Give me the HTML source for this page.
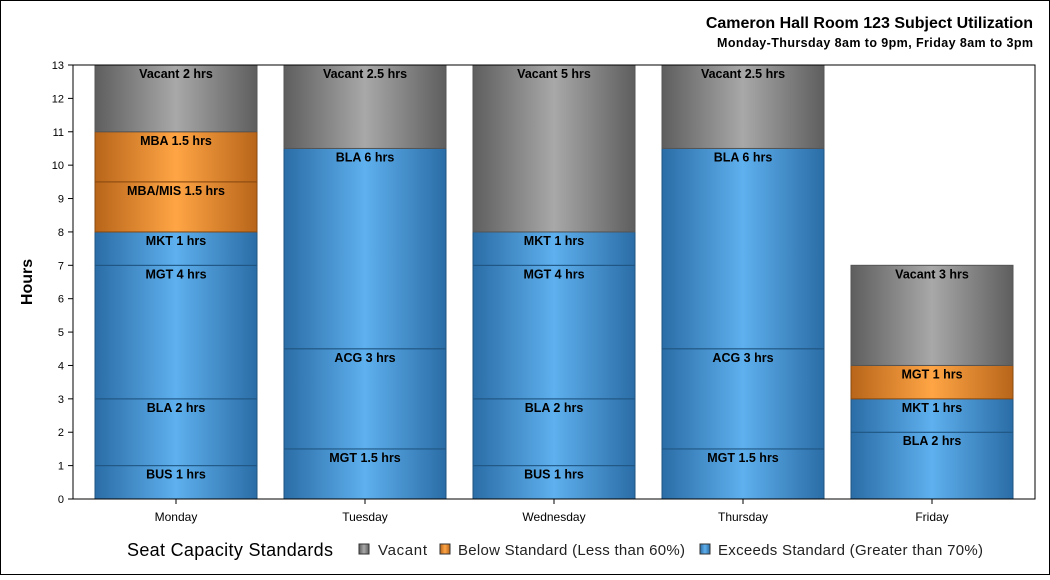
<!DOCTYPE html>
<html><head><meta charset="utf-8"><style>
body{margin:0;background:#fff;font-family:"Liberation Sans",Arial,sans-serif}
svg text{font-family:"Liberation Sans",Arial,sans-serif}
</style></head><body>
<svg id="c" width="1050" height="575" viewBox="0 0 1050 575">
<defs>
<linearGradient id="gV" x1="0" x2="1"><stop offset="0" stop-color="#5e5e5e"/><stop offset="0.5" stop-color="#a8a8a8"/><stop offset="1" stop-color="#5e5e5e"/></linearGradient>
<linearGradient id="gB" x1="0" x2="1"><stop offset="0" stop-color="#b8651a"/><stop offset="0.5" stop-color="#ffa545"/><stop offset="1" stop-color="#b8651a"/></linearGradient>
<linearGradient id="gE" x1="0" x2="1"><stop offset="0" stop-color="#2b6da6"/><stop offset="0.5" stop-color="#5eb0ee"/><stop offset="1" stop-color="#2b6da6"/></linearGradient>
</defs>
<rect x="0.5" y="0.5" width="1049" height="574" fill="#fff" stroke="#000"/>
<text x="1033" y="28" text-anchor="end" font-size="16" font-weight="bold">Cameron Hall Room 123 Subject Utilization</text>
<text x="1033" y="47" text-anchor="end" font-size="12.5" font-weight="bold" textLength="316">Monday-Thursday 8am to 9pm, Friday 8am to 3pm</text>
<g id="plot"></g>
<text transform="translate(32,282) rotate(-90)" text-anchor="middle" font-size="16" font-weight="bold">Hours</text>
<g>
<text x="127" y="556" font-size="18" textLength="206">Seat Capacity Standards</text>
<rect x="359" y="544" width="10" height="10" fill="url(#gV)" stroke="#333"/>
<text x="378" y="555" font-size="15" fill="#222" textLength="49">Vacant</text>
<rect x="440" y="544" width="10" height="10" fill="url(#gB)" stroke="#333"/>
<text x="458" y="555" font-size="15" fill="#222" textLength="227">Below Standard (Less than 60%)</text>
<rect x="700" y="544" width="10" height="10" fill="url(#gE)" stroke="#333"/>
<text x="718" y="555" font-size="15" fill="#222" textLength="265">Exceeds Standard (Greater than 70%)</text>
</g>
</svg>
<script>
const days=["Monday","Tuesday","Wednesday","Thursday","Friday"];
const segLabels=[
 ["BUS 1 hrs","BLA 2 hrs","MGT 4 hrs","MKT 1 hrs","MBA/MIS 1.5 hrs","MBA 1.5 hrs","Vacant 2 hrs"],
 ["MGT 1.5 hrs","ACG 3 hrs","BLA 6 hrs","Vacant 2.5 hrs"],
 ["BUS 1 hrs","BLA 2 hrs","MGT 4 hrs","MKT 1 hrs","Vacant 5 hrs"],
 ["MGT 1.5 hrs","ACG 3 hrs","BLA 6 hrs","Vacant 2.5 hrs"],
 ["BLA 2 hrs","MKT 1 hrs","MGT 1 hrs","Vacant 3 hrs"]];
const segValues=[[1,2,4,1,1.5,1.5,2],[1.5,3,6,2.5],[1,2,4,1,5],[1.5,3,6,2.5],[2,1,1,3]];
const segTypes=[["E","E","E","E","B","B","V"],["E","E","E","V"],["E","E","E","E","V"],["E","E","E","V"],["E","E","B","V"]];
const yTicks=[0,1,2,3,4,5,6,7,8,9,10,11,12,13];
const X0=73,X1=1035,Y0=499,Y1=65,YMAX=13;
const y=v=>Y0-(v/YMAX)*(Y0-Y1);
const step=189, bw=162;
const xc=i=>176+i*step;
const NS="http://www.w3.org/2000/svg";
const g=document.getElementById("plot");
function mk(t,a,p){const e=document.createElementNS(NS,t);for(const k in a)e.setAttribute(k,a[k]);(p||g).appendChild(e);return e;}
const fills={V:"url(#gV)",B:"url(#gB)",E:"url(#gE)"};
const strokes={V:"#555",B:"#8a4a10",E:"#1f5480"};
days.forEach((d,i)=>{
 let cum=0;
 segValues[i].forEach((v,j)=>{
  const t=segTypes[i][j];
  const r=mk("rect",{x:xc(i)-bw/2,y:y(cum+v),width:bw,height:y(cum)-y(cum+v),fill:fills[t],stroke:strokes[t],"stroke-width":1});
  
  
  const tx=mk("text",{x:xc(i),y:y(cum+v)+13,"text-anchor":"middle","font-size":12.5,"font-weight":"bold"});
  tx.textContent=segLabels[i][j];
  
  
  cum+=v;
 });
 const l=mk("text",{x:xc(i),y:521,"text-anchor":"middle","font-size":12});
 l.textContent=d;
 
 
 const tk=mk("line",{x1:xc(i),x2:xc(i),y1:Y0,y2:Y0+5,stroke:"#000"});
 
 
});
yTicks.forEach(v=>{
 const tk=mk("line",{x1:X0-5,x2:X0,y1:y(v),y2:y(v),stroke:"#000"});
 
 
 const t=mk("text",{x:X0-9,y:y(v)+4,"text-anchor":"end","font-size":11});
 t.textContent=v;
 
 
});
const f=mk("rect",{x:X0,y:Y1,width:X1-X0,height:Y0-Y1,fill:"none",stroke:"#000"});


</script>
</body></html>
